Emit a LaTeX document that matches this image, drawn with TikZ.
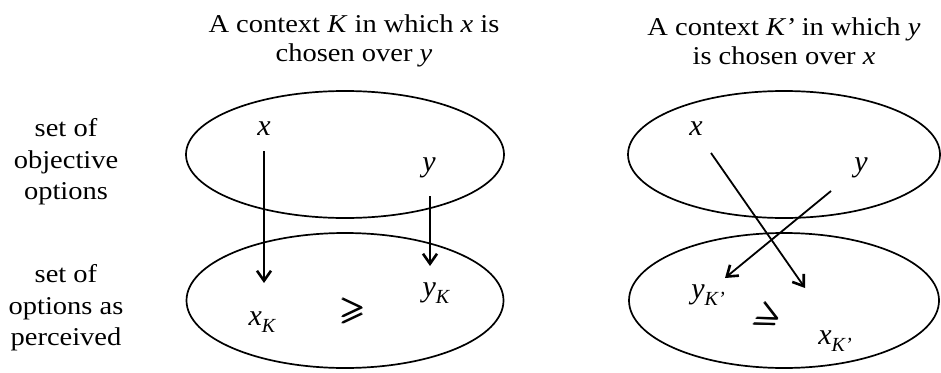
\documentclass[tikz,border=0pt]{standalone}
\usepackage{amsmath,amssymb}
\usepackage{fontspec}
\setmainfont{Liberation Serif}
\usetikzlibrary{arrows.meta,shapes.geometric}
\newcommand\lowsub[1]{\raisebox{-7pt}{\fontsize{20}{20}\selectfont #1}}
\begin{document}
\begin{tikzpicture}[x=1pt,y=-1pt,
  txt/.style={font=\fontsize{28.5}{32}\selectfont, align=center, inner sep=0pt, yscale=0.9},
  lbl/.style={font=\fontsize{28.5}{35}\selectfont, align=center, inner sep=0pt, yscale=0.9},
  var/.style={font=\fontsize{30}{30}\selectfont\itshape, inner sep=0pt},
  oval/.style={draw, ellipse, line width=1.7pt, inner sep=0pt},
  arr/.style={line width=1.8pt, -{Straight Barb[length=10pt,width=14pt,line width=2.6pt]}},
  rel/.style={font=\fontsize{24}{24}\selectfont, scale=1.35, inner sep=0pt}]
\useasboundingbox (0,0) rectangle (941,372);
% titles
\node[txt] (t1) at (354,41) {A context \textit{K} in which \textit{x} is\\chosen over \textit{y}};
\node[txt] (t2) at (784,41) {A context \textit{K'} in which \textit{y}\\is chosen over \textit{x}};
% row labels
\node[lbl] (l1) at (66,162) {set of\\objective\\options};
\node[lbl] (l2) at (66,308) {set of\\options as\\perceived};
% ellipses
\node[oval, minimum width=318pt, minimum height=127pt] (e1) at (345,154.5) {};
\node[oval, minimum width=317pt, minimum height=135pt] (e2) at (345,300.5) {};
\node[oval, minimum width=312pt, minimum height=127pt] (e3) at (784,154.5) {};
\node[oval, minimum width=310pt, minimum height=135pt] (e4) at (784,300.5) {};
% left panel
\node[var] (x1) at (264,129) {x};
\node[var] (y1) at (429,168) {y};
\node[var] (xK1) at (262,322) {x\lowsub{K}};
\node[var] (yK1) at (436,293) {y\lowsub{K}};
\node[rel] (g1) at (353,311) {$\pmb{\geqslant}$};
% right panel
\node[var] (x2) at (696,129) {x};
\node[var] (y2) at (861,168) {y};
\node[var] (yK2) at (708,295) {y\lowsub{K'}};
\node[var] (xK2) at (835,341) {x\lowsub{K'}};
\node[rel, rotate=-27] (g2) at (769,318) {$\pmb{\geqslant}$};
% arrows
\draw[arr] ([shift={(0,22)}]x1.center) -- ([shift={(2,-39)}]xK1.center);
\draw[arr] ([shift={(1,28)}]y1.center) -- ([shift={(-6,-27)}]yK1.center);
\draw[arr] ([shift={(15,24)}]x2.center) -- ([shift={(-30,-53)}]xK2.center);
\draw[arr] ([shift={(-30,23)}]y2.center) -- ([shift={(17,-17)}]yK2.center);
\end{tikzpicture}
\end{document}
